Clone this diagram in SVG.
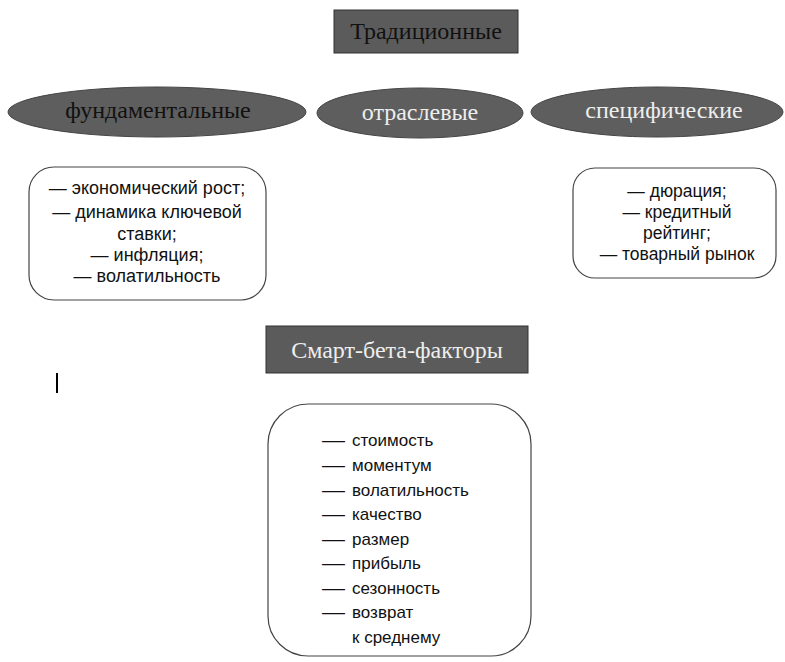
<svg xmlns="http://www.w3.org/2000/svg" width="785" height="662" viewBox="0 0 785 662">
<style>
.hdr{fill:#5b5b5b;stroke:#333;stroke-width:1}
.ell{fill:#5e5e5e;stroke:#444;stroke-width:1}
.box{fill:#fff;stroke:#444;stroke-width:1.2}
.serif{font-family:"Liberation Serif","Times New Roman",serif;font-size:24px;text-anchor:middle}
.dark{fill:#111}
.light{fill:#eee}
.sans{font-family:"Liberation Sans",Arial,sans-serif;font-size:18px;fill:#111}
.s2{font-size:17.5px}
.s3{font-size:17px}
.c{text-anchor:middle}
</style>
<rect width="785" height="662" fill="#fff"/>
<g id="traditional">
<rect class="hdr" x="334" y="10" width="184" height="43"/>
<text class="serif dark" x="426" y="39">Традиционные</text>
</g>
<g id="fundamental">
<ellipse class="ell" cx="157" cy="112" rx="149" ry="25"/>
<text class="serif dark" x="158" y="118">фундаментальные</text>
</g>
<g id="sectoral">
<ellipse class="ell" cx="420" cy="113" rx="103" ry="25"/>
<text class="serif light" x="420" y="120">отраслевые</text>
</g>
<g id="specific">
<ellipse class="ell" cx="657" cy="112" rx="126" ry="25"/>
<text class="serif light" x="664" y="118">специфические</text>
</g>
<g id="fund-list">
<rect class="box" x="29" y="167" width="237" height="133" rx="25"/>
<text class="sans c" x="147" y="194">— экономический рост;</text>
<text class="sans c" x="147" y="218">— динамика ключевой</text>
<text class="sans c" x="147" y="240">ставки;</text>
<text class="sans c" x="147" y="261">— инфляция;</text>
<text class="sans c" x="147" y="282">— волатильность</text>
</g>
<g id="spec-list">
<rect class="box" x="573" y="168" width="203" height="110" rx="22"/>
<text class="sans s2 c" x="677" y="197">— дюрация;</text>
<text class="sans s2 c" x="677" y="218">— кредитный</text>
<text class="sans s2 c" x="677" y="239">рейтинг;</text>
<text class="sans s2 c" x="677" y="260">— товарный рынок</text>
</g>
<g id="smartbeta">
<rect class="hdr" x="266" y="326" width="262" height="47"/>
<text class="serif light" x="397" y="358">Смарт-бета-факторы</text>
</g>
<line x1="57" y1="373" x2="57" y2="393" stroke="#000" stroke-width="2"/>
<g id="smart-list">
<rect class="box" x="268" y="404" width="263" height="252" rx="40"/>
<g class="sans s3">
<text x="322" y="446" textLength="23" lengthAdjust="spacingAndGlyphs">—</text><text x="352" y="446">стоимость</text>
<text x="322" y="471" textLength="23" lengthAdjust="spacingAndGlyphs">—</text><text x="352" y="471">моментум</text>
<text x="322" y="496" textLength="23" lengthAdjust="spacingAndGlyphs">—</text><text x="352" y="496">волатильность</text>
<text x="322" y="520" textLength="23" lengthAdjust="spacingAndGlyphs">—</text><text x="352" y="520">качество</text>
<text x="322" y="545" textLength="23" lengthAdjust="spacingAndGlyphs">—</text><text x="352" y="545">размер</text>
<text x="322" y="569" textLength="23" lengthAdjust="spacingAndGlyphs">—</text><text x="352" y="569">прибыль</text>
<text x="322" y="594" textLength="23" lengthAdjust="spacingAndGlyphs">—</text><text x="352" y="594">сезонность</text>
<text x="322" y="618" textLength="23" lengthAdjust="spacingAndGlyphs">—</text><text x="352" y="618">возврат</text>
<text x="352" y="643">к среднему</text>
</g>
</g>
<g id="connectors"/>
</svg>
